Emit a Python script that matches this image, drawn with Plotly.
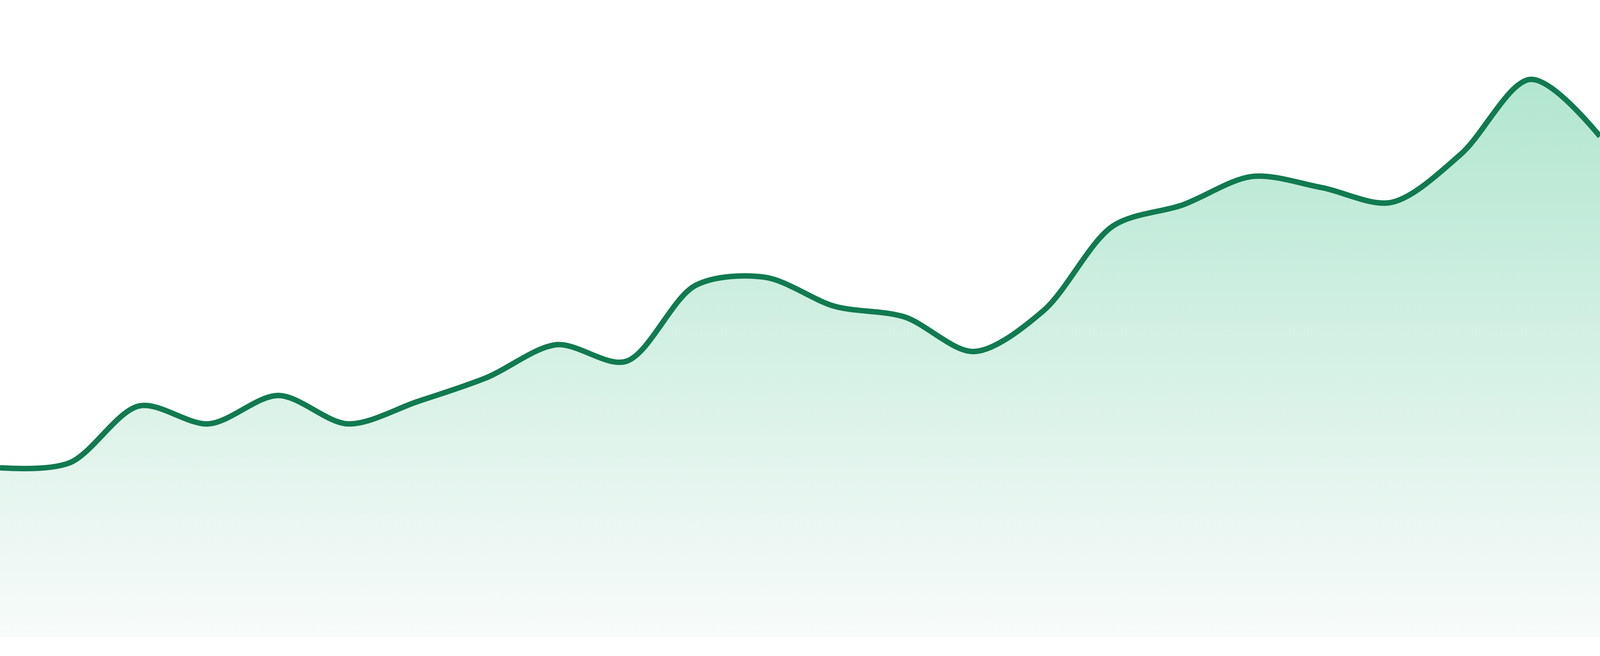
import plotly.graph_objects as go

# ── Data ─────────────────────────────────────────────────────────────────────
periods = [f"P{i:02d}" for i in range(1, 25)]
values = [27.4, 28.2, 37.4, 34.5, 39.1, 34.5, 38.1, 42.0, 47.3, 44.6, 56.9, 58.2,
          53.5, 51.8, 46.2, 52.8, 66.5, 69.9, 74.5, 72.7, 70.3, 78.1, 90.2, 81.0]

LINE = "#117a50"
FILL_TOP = "#b2e6d0"
FILL_BOTTOM = "#f8fbfa"

fig = go.Figure(go.Scatter(
    x=periods,
    y=values,
    mode="lines",
    line=dict(color=LINE, width=14, shape="spline", smoothing=0.9),
    fill="tozeroy",
    fillgradient=dict(
        type="vertical",
        colorscale=[[0, FILL_BOTTOM], [1, FILL_TOP]],
        start=0,
        stop=max(values),
    ),
    hoverinfo="skip",
))

fig.update_xaxes(visible=False, range=[0, len(periods) - 1])
fig.update_yaxes(visible=False, range=[0, 100])
fig.update_layout(
    width=4800,
    height=1680,
    margin=dict(l=0, r=0, t=48, b=48),
    paper_bgcolor="white",
    plot_bgcolor="white",
    showlegend=False,
)

# the browser window can be narrower than 4800px, so fit the figure to it
fit_js = """
document.body.style.margin = '0';
var gd = document.getElementById('{plot_id}');
Plotly.relayout(gd, {width: window.innerWidth, height: window.innerHeight});
"""

fig.write_html("out.html", config={"displayModeBar": False}, post_script=fit_js)
